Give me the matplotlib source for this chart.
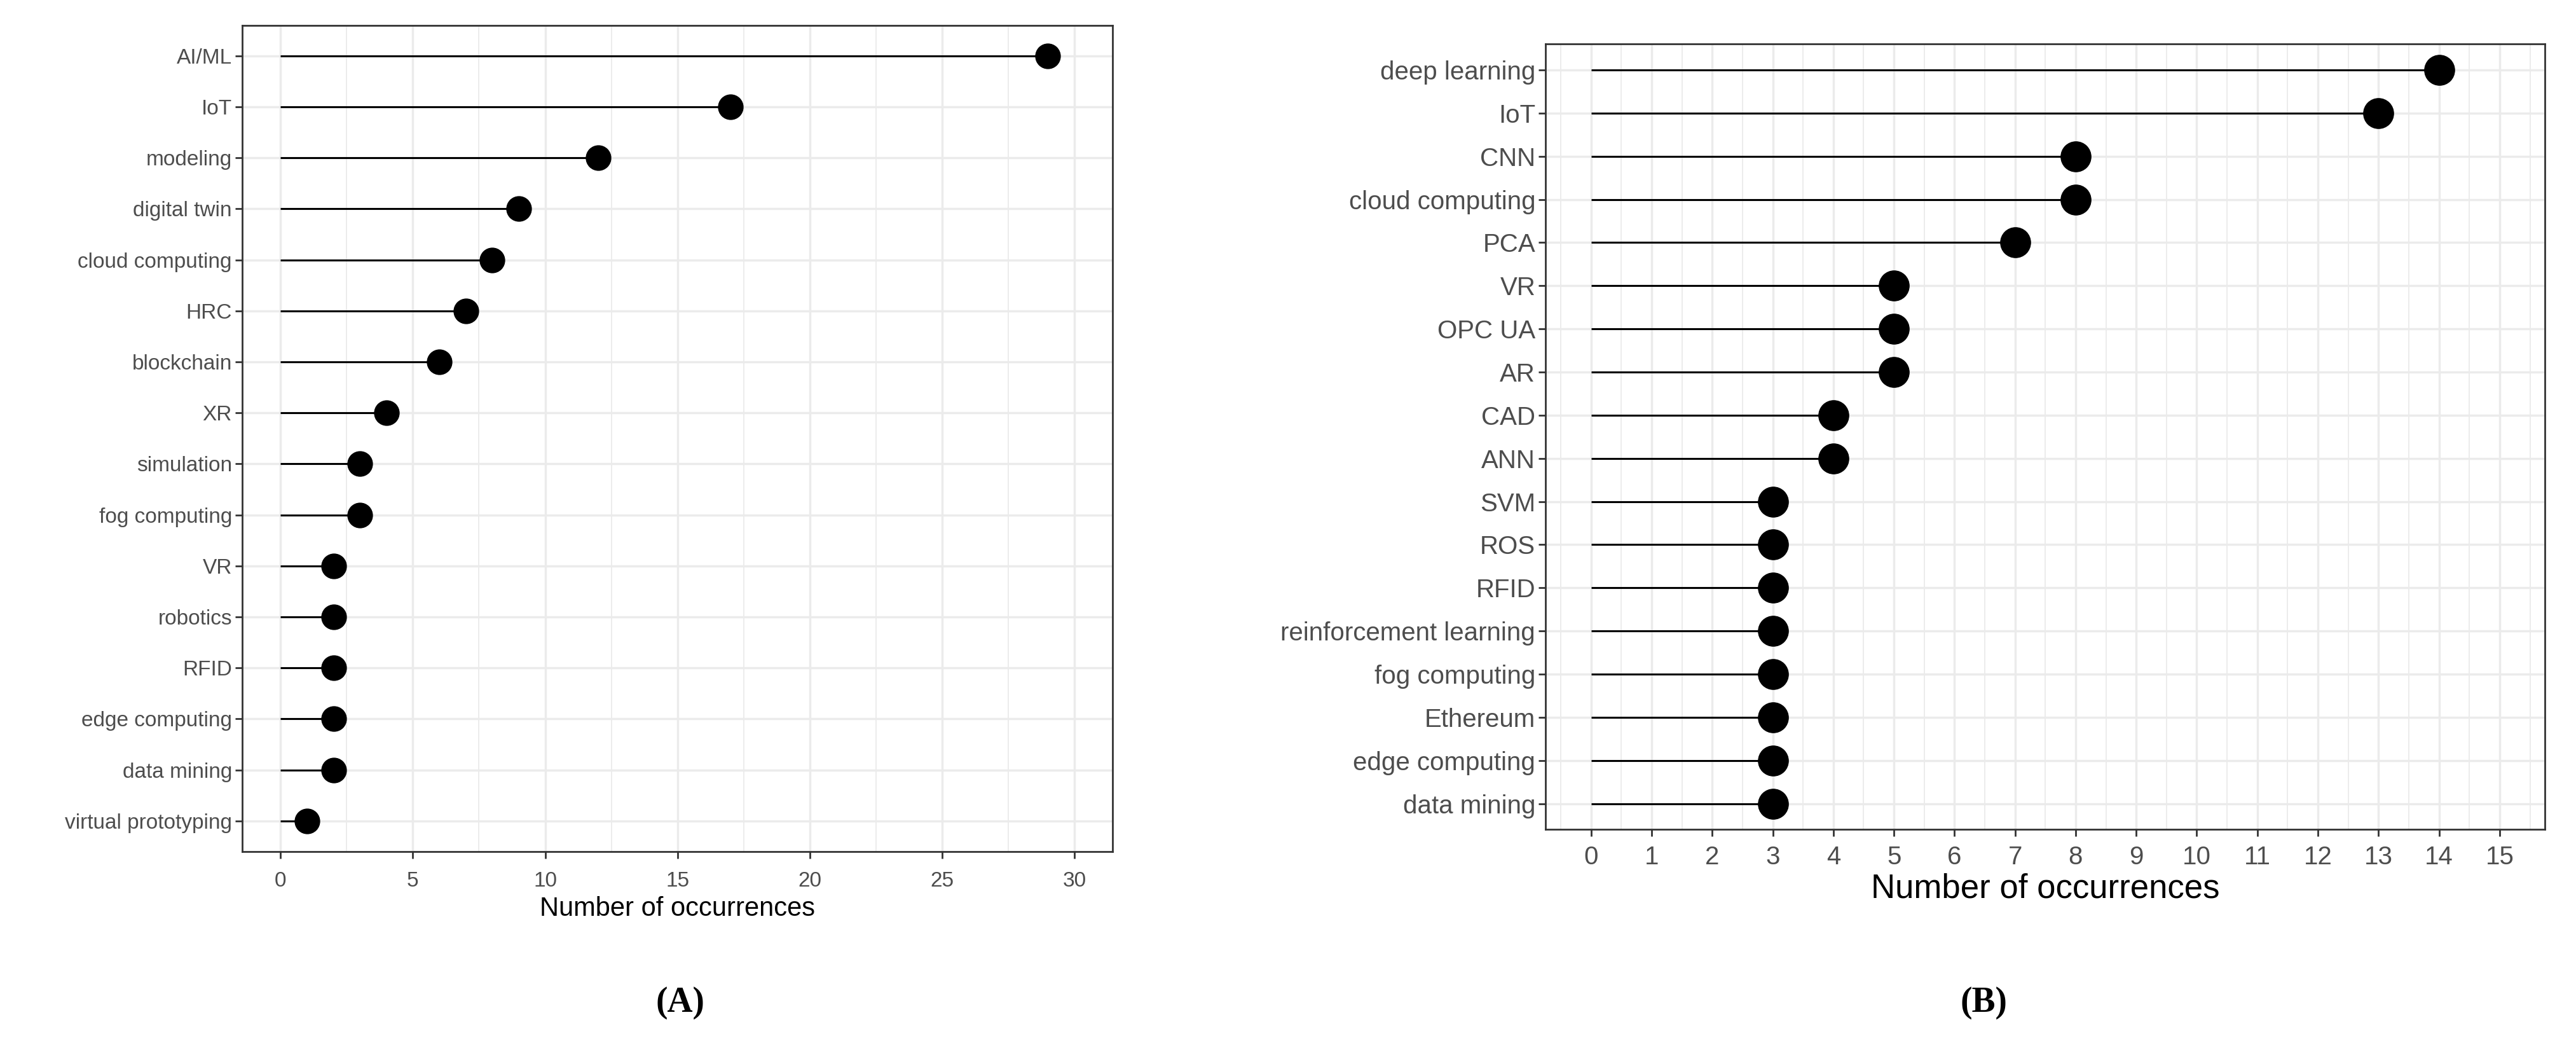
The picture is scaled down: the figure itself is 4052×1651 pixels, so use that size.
import matplotlib
matplotlib.use("Agg")
import matplotlib.pyplot as plt
import numpy as np
from matplotlib.ticker import MultipleLocator

plt.rcParams["font.family"] = ["Liberation Sans", "DejaVu Sans"]

# Panel A (top to bottom)
labels_a = ["AI/ML", "IoT", "modeling", "digital twin", "cloud computing", "HRC",
            "blockchain", "XR", "simulation", "fog computing", "VR", "robotics",
            "RFID", "edge computing", "data mining", "virtual prototyping"]
values_a = [29, 17, 12, 9, 8, 7, 6, 4, 3, 3, 2, 2, 2, 2, 2, 1]

# Panel B (top to bottom)
labels_b = ["deep learning", "IoT", "CNN", "cloud computing", "PCA", "VR", "OPC UA",
            "AR", "CAD", "ANN", "SVM", "ROS", "RFID", "reinforcement learning",
            "fog computing", "Ethereum", "edge computing", "data mining"]
values_b = [14, 13, 8, 8, 7, 5, 5, 5, 4, 4, 3, 3, 3, 3, 3, 3, 3, 3]

GRID = "#ebebeb"
TXT = "#4d4d4d"


def lollipop(ax, labels, values, xlim, major, minor, tick_fs, lab_fs, ms, xpad, lpad):
    n = len(labels)
    y = np.arange(n)[::-1]
    ax.hlines(y, 0, values, color="black", lw=2.2, zorder=3)
    ax.plot(values, y, "o", color="black", markersize=ms, zorder=4)
    ax.set_yticks(y)
    ax.set_yticklabels(labels)
    ax.set_ylim(-0.6, n - 0.4)
    ax.set_xlim(*xlim)
    ax.xaxis.set_major_locator(MultipleLocator(major))
    ax.xaxis.set_minor_locator(MultipleLocator(minor))
    ax.grid(True, which="major", color=GRID, lw=2.5, zorder=0)
    ax.grid(True, which="minor", axis="x", color=GRID, lw=1.3, zorder=0)
    ax.set_axisbelow(True)
    ax.tick_params(which="major", labelsize=tick_fs, length=8, width=2,
                   color="#333333", labelcolor=TXT)
    ax.tick_params(axis="x", which="major", pad=xpad)
    ax.tick_params(which="minor", length=0)
    ax.set_xlabel("Number of occurrences", fontsize=lab_fs, color="black", labelpad=lpad)
    for s in ax.spines.values():
        s.set_color("#333333")
        s.set_linewidth(2)


fig = plt.figure(figsize=(40.52, 16.51), dpi=100)
ax_a = fig.add_axes([0.094, 0.189, 0.338, 0.787])
ax_b = fig.add_axes([0.600, 0.210, 0.388, 0.748])

lollipop(ax_a, labels_a, values_a, (-1.45, 31.45), 5, 2.5, 24, 30, 28, 14, 6)
lollipop(ax_b, labels_b, values_b, (-0.75, 15.75), 1, 0.5, 29, 38, 34, 10, 4)

fig.text(0.264, 0.045, "(A)", fontsize=40, fontweight="bold", family="Liberation Serif",
         ha="center", va="center")
fig.text(0.770, 0.045, "(B)", fontsize=40, fontweight="bold", family="Liberation Serif",
         ha="center", va="center")

fig.savefig("out.png", dpi=100)
